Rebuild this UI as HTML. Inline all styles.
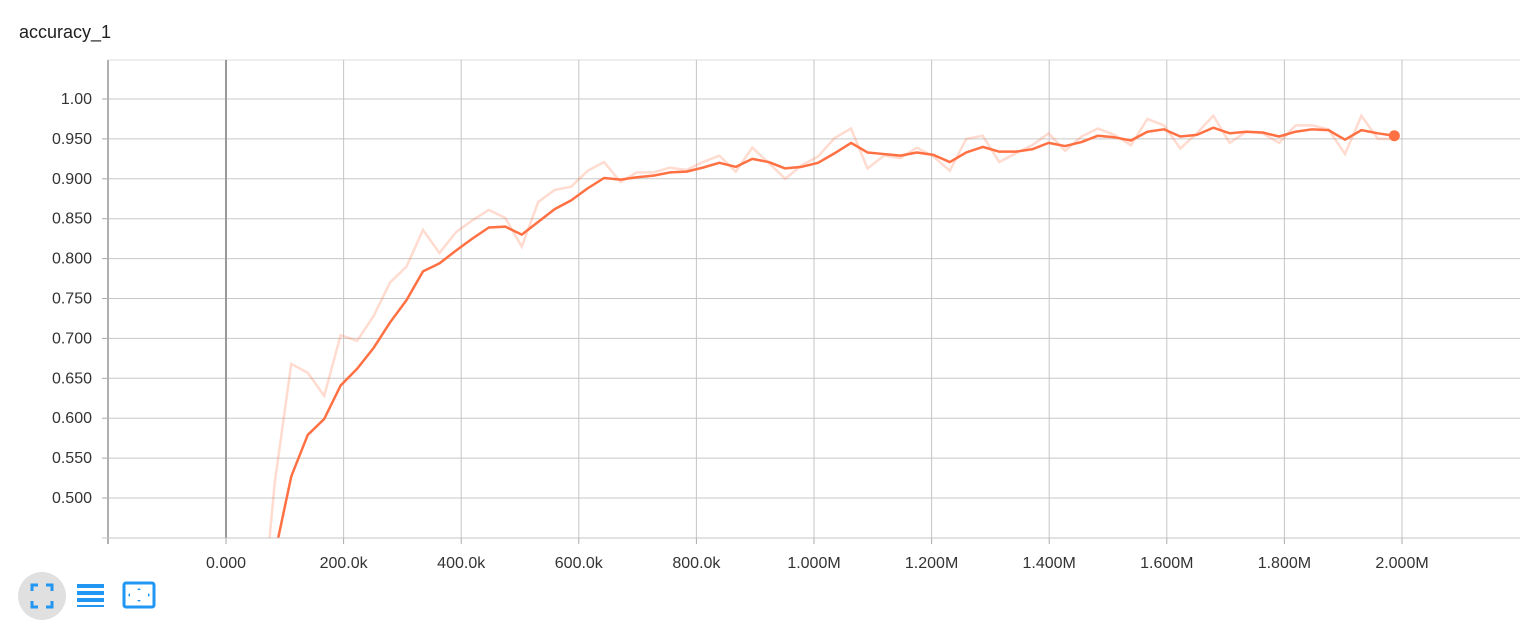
<!DOCTYPE html>
<html><head><meta charset="utf-8"><style>
html,body{margin:0;padding:0;width:1537px;height:641px;overflow:hidden;background:#fff;font-family:"Liberation Sans",Roboto,sans-serif;}
#wrap{position:relative;width:1537px;height:641px;overflow:hidden}
svg{display:block}
</style></head><body>
<div id="wrap">
<svg id="chart" width="1537" height="641">
<text x="19" y="38" font-size="18" fill="#212121">accuracy_1</text>
<g id="grid"></g><g id="series"></g><g id="axes"></g>
<g>
<circle cx="42" cy="596" r="24" fill="#e0e0e0"/>
<path d="M32 591v-6h6M46 585h6v6M52 601v6h-6M38 607h-6v-6" fill="none" stroke="#2196f3" stroke-width="3"/>
</g>
<g>
<rect x="77" y="584" width="27" height="4" fill="#2196f3"/><rect x="77" y="591" width="27" height="4" fill="#2196f3"/><rect x="77" y="598" width="27" height="4" fill="#2196f3"/><rect x="77" y="605" width="27" height="2" fill="#2196f3"/>
</g>
<g>
<rect x="124" y="583" width="30" height="24" rx="2" fill="none" stroke="#2196f3" stroke-width="3"/>
<path d="M139 588l-2 2h4zM139 602l-2-2h4zM128 595l2-2v4zM150 595l-2-2v4z" fill="#2196f3"/>
</g>
</svg></div>
<script>
const steps=[55,83,111,139,167,195,223,251,279,307,335,363,391,419,447,475,503,531,559,587,615,643,671,699,727,755,783,811,839,867,895,923,951,979,1007,1035,1063,1091,1119,1147,1175,1203,1231,1259,1287,1315,1343,1371,1399,1427,1455,1483,1511,1539,1567,1595,1623,1651,1679,1707,1735,1763,1791,1819,1847,1875,1903,1931,1959,1987];
const smoothed=[0.25,0.43,0.527,0.579,0.599,0.641,0.662,0.688,0.720,0.748,0.784,0.794,0.810,0.825,0.839,
0.840,0.830,0.846,0.862,0.873,0.888,0.901,0.899,0.902,0.904,0.908,0.909,0.914,0.920,0.915,0.925,0.921,0.913,0.915,0.920,0.932,0.945,0.933,0.931,0.929,0.933,0.930,0.921,0.933,0.940,0.934,0.934,
0.937,0.945,0.941,0.946,0.954,0.952,0.948,0.959,0.962,0.953,0.955,0.964,0.957,0.959,0.958,0.953,0.959,0.962,0.961,0.949,0.961,0.957,0.954];
const raw=[0.30,0.52,0.668,0.657,0.628,0.704,0.697,0.728,0.770,0.790,0.836,0.807,0.833,0.848,0.861,
0.851,0.815,0.871,0.886,0.890,0.910,0.921,0.896,0.908,0.908,0.914,0.911,0.921,0.929,0.909,0.939,0.920,0.900,0.917,0.928,0.951,0.963,0.913,0.929,0.926,0.939,0.928,0.910,0.950,0.954,0.921,0.932,
0.942,0.957,0.935,0.953,0.963,0.955,0.942,0.975,0.967,0.938,0.957,0.979,0.945,0.959,0.957,0.945,0.967,0.967,0.962,0.931,0.979,0.950,0.950];
const yTicks=[0.5,0.55,0.6,0.65,0.7,0.75,0.8,0.85,0.9,0.95,1.0];
const yLabels=["0.500","0.550","0.600","0.650","0.700","0.750","0.800","0.850","0.900","0.950","1.00"];
const xTicks=[0,200,400,600,800,1000,1200,1400,1600,1800,2000];
const xLabels=["0.000","200.0k","400.0k","600.0k","800.0k","1.000M","1.200M","1.400M","1.600M","1.800M","2.000M"];
const L=108,R=1520,T=60,B=538;
const X=s=>226+s*0.588, Y=v=>99+(1-v)*798;
const NS="http://www.w3.org/2000/svg";
function mk(tag,attrs,parent){const e=document.createElementNS(NS,tag);for(const k in attrs)e.setAttribute(k,attrs[k]);parent.appendChild(e);return e;}
const grid=document.getElementById('grid'),axes=document.getElementById('axes'),ser=document.getElementById('series');
mk('line',{x1:L,x2:R,y1:T,y2:T,stroke:'#dcdcdc','stroke-width':1},grid);
yTicks.forEach((v,i)=>{
 const g=mk('line',{x1:L,x2:R,y1:Y(v),y2:Y(v),stroke:'#c8c8c8','stroke-width':1},grid);
 
 
 mk('line',{x1:L-6,x2:L,y1:Y(v),y2:Y(v),stroke:'#aaa'},axes);
 const t=mk('text',{x:92,y:Y(v)+5,'text-anchor':'end','font-size':16,fill:'#333'},axes);
 t.textContent=yLabels[i];
 
 
});
xTicks.forEach((s,i)=>{
 const g=mk('line',{x1:X(s),x2:X(s),y1:T,y2:B,stroke:s===0?'#999':'#c4c4c4','stroke-width':s===0?2:1},grid);
 
 
 mk('line',{x1:X(s),x2:X(s),y1:B,y2:B+6,stroke:'#aaa'},axes);
 const t=mk('text',{x:X(s),y:568,'text-anchor':'middle','font-size':16,fill:'#333'},axes);
 t.textContent=xLabels[i];
 
 
});
mk('line',{x1:L,x2:L,y1:T,y2:B+6,stroke:'#b0b0b0','stroke-width':2},axes);
mk('line',{x1:L-6,x2:R,y1:B,y2:B,stroke:'#c4c4c4','stroke-width':1},axes);
const cp=mk('clipPath',{id:'clip'},ser);mk('rect',{x:L,y:T,width:R-L,height:B-T},cp);
const g=mk('g',{'clip-path':'url(#clip)'},ser);
const rl=mk('polyline',{points:steps.map((s,i)=>X(s)+','+Y(raw[i])).join(' '),fill:'none',stroke:'#ff7043','stroke-opacity':0.25,'stroke-width':2.5},g);


const sl=mk('polyline',{points:steps.map((s,i)=>X(s)+','+Y(smoothed[i])).join(' '),fill:'none',stroke:'#ff7043','stroke-width':2.5,'stroke-linejoin':'round'},g);


const n=steps.length-1;
const dot=mk('circle',{cx:X(steps[n]),cy:Y(smoothed[n]),r:5.5,fill:'#ff7043'},g);


</script>
</body></html>
